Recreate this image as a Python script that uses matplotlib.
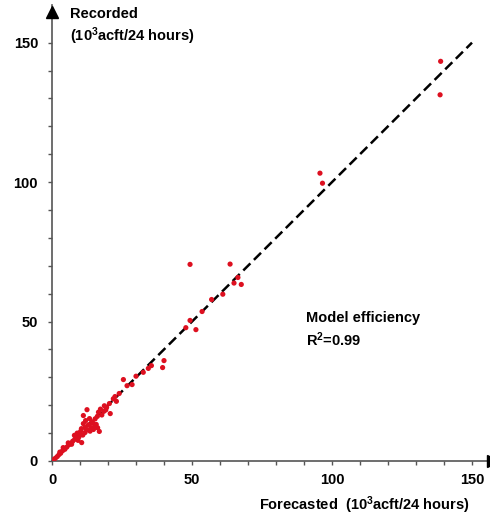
import matplotlib
matplotlib.use("Agg")
import matplotlib.pyplot as plt

plt.rcParams['font.family'] = ['Liberation Sans', 'DejaVu Sans']
plt.rcParams['font.weight'] = 'bold'
plt.rcParams['mathtext.fontset'] = 'custom'
plt.rcParams['mathtext.rm'] = 'Liberation Sans:bold'
plt.rcParams['mathtext.it'] = 'Liberation Sans:bold'
plt.rcParams['mathtext.bf'] = 'Liberation Sans:bold'
plt.rcParams['mathtext.sf'] = 'Liberation Sans:bold'

forecasted = [138.8, 138.6, 95.7, 96.6,
              49.3, 63.6, 66.4, 65.0, 67.6, 61.0, 57.0, 53.6, 49.3, 47.8, 51.4,
              40.0, 39.5, 35.5, 34.4, 32.6, 25.5, 28.6, 24.0, 21.9, 20.5, 19.5, 20.8,
              12.5, 17.3, 16.6, 18.5, 19.2, 11.2, 16.9, 14.6, 15.3, 13.9, 15.8, 16.3,
              14.8, 11.2, 11.8, 11.8, 13.0, 12.5, 10.6, 9.8, 8.8, 9.3, 8.2, 7.4, 6.8,
              6.0, 5.3, 4.6, 3.8, 3.1, 2.5, 1.9, 1.2, 0.6, 10.2, 9.0, 8.0, 7.0, 5.8,
              4.0, 2.8, 12.0, 13.4, 14.2, 17.8, 18.7, 22.5, 26.8, 30.0, 23.0, 16.2,
              15.4, 10.5, 9.6, 11.0, 13.6]
recorded = [143.3, 131.3, 103.2, 99.6,
            70.5, 70.6, 65.8, 63.8, 63.3, 59.8, 57.9, 53.6, 50.4, 47.8, 47.1,
            36.0, 33.5, 34.2, 33.2, 31.8, 29.2, 27.4, 24.2, 22.3, 20.6, 19.2, 17.0,
            18.4, 18.6, 17.5, 17.8, 18.3, 16.3, 10.6, 13.6, 12.5, 12.0, 13.1, 11.9,
            11.3, 13.4, 12.0, 10.2, 13.0, 11.2, 6.6, 9.5, 8.3, 7.4, 7.8, 7.1, 6.4,
            5.8, 5.0, 4.2, 3.7, 2.8, 2.3, 1.6, 1.0, 0.5, 10.6, 10.0, 9.2, 6.0, 6.5,
            4.8, 3.2, 14.5, 15.2, 14.1, 16.5, 19.8, 23.1, 27.0, 30.4, 21.4, 16.0,
            15.1, 11.6, 8.6, 9.3, 10.7]

line_x = [0, 150]
line_y = [0, 150]
tick_values = [0, 50, 100, 150]
minor_ticks = list(range(0, 151, 10))

W, H = 490, 516
fig = plt.figure(figsize=(W / 100, H / 100), dpi=100)
x0_px, y0_px = 52, 461
px_per_unit_x = 2.8
px_per_unit_y = 2.789
ax = fig.add_axes([x0_px / W, (H - y0_px) / H, (W - x0_px) / W, (y0_px - 5) / H])
xmax = (W - x0_px) / px_per_unit_x
ymax = (y0_px - 5) / px_per_unit_y
ax.set_xlim(0, xmax)
ax.set_ylim(0, ymax)

ax.plot(line_x, line_y, color='black', lw=1.8, dashes=(4, 2), zorder=2)
ax.scatter(forecasted, recorded, s=14, color='#dd1020', edgecolors='none', zorder=3)

for s in ['top', 'right']:
    ax.spines[s].set_visible(False)
for s in ['left', 'bottom']:
    ax.spines[s].set_color('#555555')
    ax.spines[s].set_linewidth(1.2)

ax.set_xticks(minor_ticks)
ax.set_yticks(minor_ticks)
ax.set_xticklabels([str(v) if v in tick_values else '' for v in minor_ticks])
ax.set_yticklabels([str(v) if v in tick_values else '' for v in minor_ticks])
ax.tick_params(axis='both', direction='out', length=3, width=1, color='#555555',
               labelsize=10.5, labelcolor='black')
ax.tick_params(axis='y', pad=7)
ax.tick_params(axis='x', pad=6)

# arrows at ends of axes
ax.plot([0], [ymax - 2.5], marker='^', ms=8, color='black', clip_on=False, zorder=5)
ax.plot([xmax + 1], [0], marker='>', ms=8, color='black', clip_on=False, zorder=5)

def ftext(x, y, s, **kw):
    fig.text(x / W, 1 - y / H, s, fontsize=10.5, fontweight='bold', va='baseline', **kw)

ftext(70, 18, 'Recorded')
ftext(70, 41, r'(10$^{3}$acft/24 hours)')
ftext(470, 510, r'Forecasted  (10$^{3}$acft/24 hours)', ha='right')
ftext(306, 322, 'Model efficiency')
ftext(306, 346, r'R$^{2}$=0.99')

fig.savefig('out.png', dpi=100)
